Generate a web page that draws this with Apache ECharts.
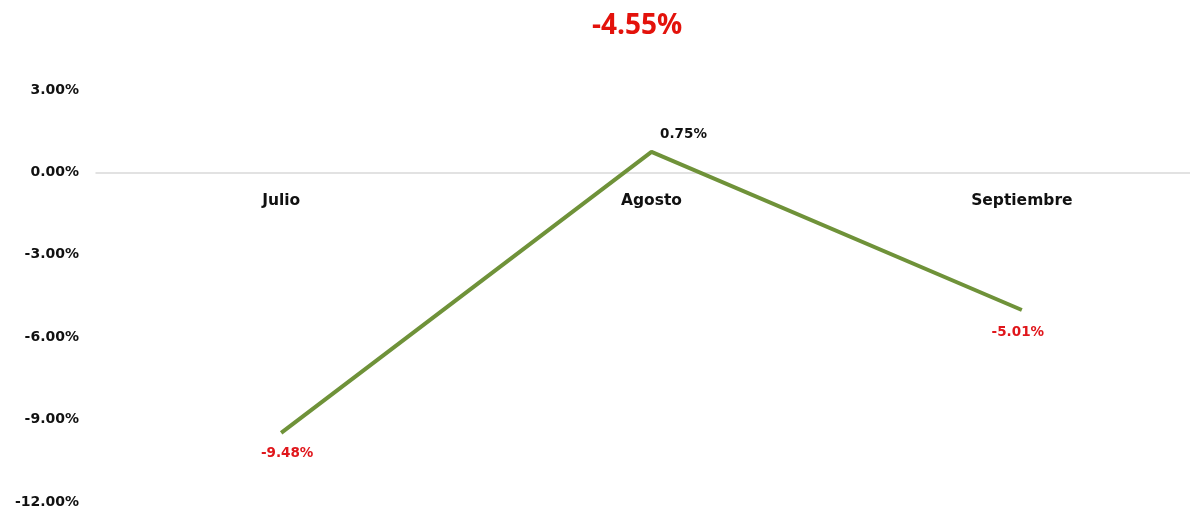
<!DOCTYPE html>
<html>
<head>
<meta charset="utf-8">
<script src="https://cdn.jsdelivr.net/npm/echarts@6/dist/echarts.min.js"></script>
<style>html,body{margin:0;padding:0;background:#fff}#c{width:1190px;height:508px}</style>
</head>
<body>
<div id="c"></div>
<script>
const categories = ['Julio', 'Agosto', 'Septiembre'];
const values = [-9.48, 0.75, -5.01];
const summaryText = '-4.55%';
const yMin = -12, yMax = 3, yStep = 3;

const chart = echarts.init(document.getElementById('c'));
const font = '"DejaVu Sans", Verdana, sans-serif';
const labelOffsets = [[6, 4], [32, 0], [-4, 5]];
chart.setOption({
  animation: false,
  backgroundColor: '#ffffff',
  title: {
    text: summaryText,
    left: 632, top: 7,
    textAlign: 'center',
    textStyle: { color: '#e3120b', fontSize: 28, fontWeight: 'bold', fontFamily: '"Open Sans", sans-serif' }
  },
  grid: { left: 96, right: -17, top: 90, bottom: 6, containLabel: false, outerBoundsMode: 'none' },
  xAxis: [{
    type: 'category',
    data: categories,
    boundaryGap: true,
    axisLine: { onZero: true, lineStyle: { color: '#d9d9d9', width: 1.5 } },
    axisTick: { show: false },
    axisLabel: { show: false }
  }, {
    type: 'category',
    data: categories,
    boundaryGap: true,
    position: 'bottom',
    offset: -329,
    axisLine: { show: false },
    axisTick: { show: false },
    axisLabel: { color: '#111', fontSize: 15.5, fontWeight: 'bold', fontFamily: font, margin: 20 }
  }],
  yAxis: {
    type: 'value',
    min: yMin, max: yMax, interval: yStep,
    axisLine: { show: false },
    axisTick: { show: false },
    splitLine: { show: false },
    axisLabel: {
      color: '#111', fontSize: 14, fontWeight: 'bold', fontFamily: font, margin: 17,
      formatter: v => v.toFixed(2) + '%'
    }
  },
  series: [{
    type: 'line',
    xAxisIndex: 0,
    symbol: 'circle',
    symbolSize: 0.1,
    showSymbol: true,
    itemStyle: { color: '#6f9239' },
    lineStyle: { color: '#6f9239', width: 4 },
    label: {
      show: true,
      fontFamily: font, fontSize: 13.5, fontWeight: 'bold',
      formatter: p => p.value.toFixed(2) + '%'
    },
    data: values.map((v, i) => v >= 0 ? {
      value: v,
      label: { show: true, position: 'top', color: '#111', offset: labelOffsets[i], distance: 10 }
    } : {
      value: v,
      label: { show: true, position: 'bottom', color: '#e0161b', offset: labelOffsets[i], distance: 10 }
    })
  }]
});
</script>
</body>
</html>
